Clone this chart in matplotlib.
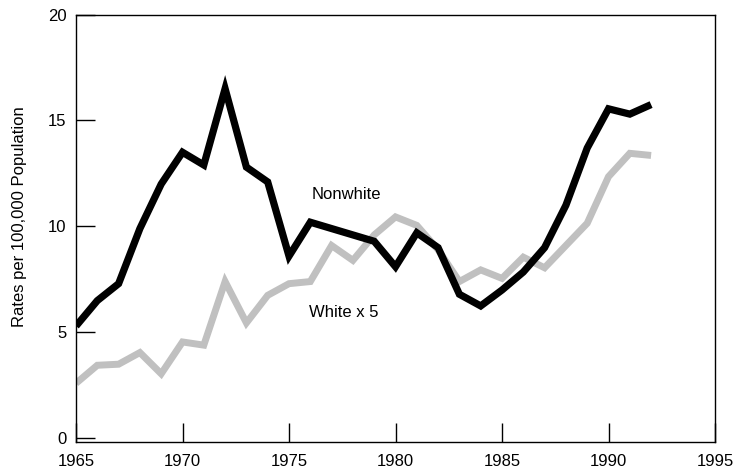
import matplotlib
matplotlib.use("Agg")
import matplotlib.pyplot as plt

years = list(range(1965, 1993))
nonwhite = [5.3, 6.5, 7.3, 9.9, 12.0, 13.5, 12.9, 16.5, 12.8, 12.1,
            8.6, 10.2, 9.9, 9.6, 9.3, 8.1, 9.7, 9.0, 6.8, 6.25,
            7.0, 7.85, 9.0, 11.0, 13.7, 15.55, 15.3, 15.75]
white_x5 = [2.6, 3.45, 3.5, 4.05, 3.05, 4.55, 4.4, 7.4, 5.45, 6.75,
            7.3, 7.4, 9.1, 8.4, 9.6, 10.45, 10.05, 8.9, 7.4, 7.95,
            7.55, 8.55, 8.05, 9.1, 10.15, 12.35, 13.45, 13.35]
xticks = [1965, 1970, 1975, 1980, 1985, 1990, 1995]
yticks = [0, 5, 10, 15, 20]

plt.rcParams['font.family'] = ['Liberation Sans', 'DejaVu Sans']

fig = plt.figure(figsize=(7.34, 4.70), dpi=100)
ax = fig.add_axes([76/734, 28/470, (715-76)/734, (442-14.5)/470])

ax.plot(years, white_x5, color='#c0c0c0', lw=5.0,
        solid_joinstyle='miter', solid_capstyle='butt')
ax.plot(years, nonwhite, color='black', lw=5.2,
        solid_joinstyle='miter', solid_capstyle='butt')

ax.set_xlim(1965, 1995)
ax.set_ylim(-0.17, 20)
ax.set_xticks(xticks)
ax.set_yticks(yticks)
ax.tick_params(direction='in', length=13.5, width=1.0, labelsize=12,
               color='black')
ax.tick_params(axis='x', pad=8.5)
ax.tick_params(axis='y', pad=7)
for s in ax.spines.values():
    s.set_linewidth(1.0)

ax.set_ylabel('Rates per 100,000 Population', fontsize=12)
ax.yaxis.set_label_coords(-0.076, 0.527)

ax.text(1976.05, 11.5, 'Nonwhite', fontsize=12, va='center', ha='left')
ax.text(1975.95, 5.92, 'White x 5', fontsize=12, va='center', ha='left')

fig.savefig('out.png', dpi=100)
